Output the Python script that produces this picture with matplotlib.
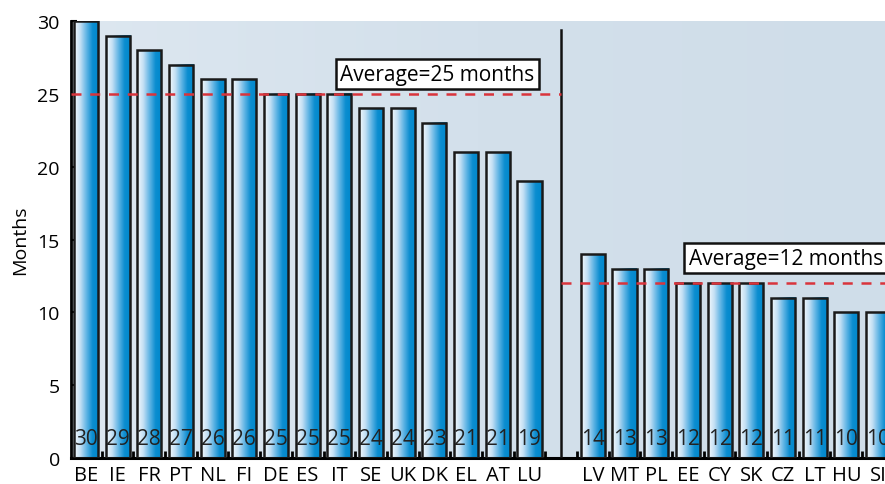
import matplotlib
matplotlib.use('Agg')
import matplotlib.pyplot as plt
import numpy as np
from matplotlib.colors import LinearSegmentedColormap

plt.rcParams['font.family'] = ['Open Sans', 'DejaVu Sans']

# Data
group_a = ['BE', 'IE', 'FR', 'PT', 'NL', 'FI', 'DE', 'ES', 'IT', 'SE', 'UK', 'DK', 'EL', 'AT', 'LU']
values_a = [30, 29, 28, 27, 26, 26, 25, 25, 25, 24, 24, 23, 21, 21, 19]
group_b = ['LV', 'MT', 'PL', 'EE', 'CY', 'SK', 'CZ', 'LT', 'HU', 'SI']
values_b = [14, 13, 13, 12, 12, 12, 11, 11, 10, 10]
avg_a = 25
avg_b = 12

labels = group_a + [''] + group_b
values = values_a + [0] + values_b
pos = np.arange(len(labels))
split = len(group_a)

fig = plt.figure(figsize=(8.85, 4.85), dpi=100)
ax = fig.add_axes([0.0802, 0.0536, 0.9198, 0.901])
xmin, xmax = -0.47, 25.22

# background
bg = np.linspace(0, 1, 200).reshape(1, -1)
bg_cmap = LinearSegmentedColormap.from_list('bg', ['#dde7f0', '#d3e0eb', '#cfdde9'])
ax.imshow(bg, extent=[xmin, xmax, 0, 30], aspect='auto', cmap=bg_cmap, zorder=0)

bar_cmap = LinearSegmentedColormap.from_list(
    'bar', ['#f6fafd', '#c4e0f4', '#62b5e5', '#0b8dd0', '#0088cc'])
grad = np.linspace(0, 1, 100).reshape(1, -1)

idx = [i for i, v in enumerate(values) if i != split]
bars = ax.bar(pos[idx], [values[i] for i in idx], width=0.76,
              facecolor='none', edgecolor='#1a1a1a', linewidth=1.8, zorder=3)
for b, i in zip(bars, idx):
    x0, y0, w, h = b.get_x(), b.get_y(), b.get_width(), b.get_height()
    ax.imshow(grad, extent=[x0, x0 + w, y0, y0 + h], aspect='auto',
              cmap=bar_cmap, zorder=2)
    ax.text(pos[i], 0.6, str(values[i]), ha='center', va='bottom',
            fontsize=15, color='#222222', zorder=5)

# separator and averages
ax.plot([split, split], [0, 29.4], color='#111111', lw=1.8, zorder=4)
ax.plot([xmin, split], [avg_a, avg_a], color='#d9343c', lw=1.8,
        dashes=(4, 3.5), zorder=4)
ax.plot([split, xmax], [avg_b, avg_b], color='#d9343c', lw=1.8,
        dashes=(4, 3.5), zorder=4)
box = dict(boxstyle='square,pad=0.22', facecolor='white', edgecolor='#111111', lw=1.8)
ax.text(8.03, 26.35, 'Average=25 months', ha='left', va='center',
        fontsize=15, bbox=box, zorder=6)
ax.text(19.02, 13.72, 'Average=12 months', ha='left', va='center',
        fontsize=15, bbox=box, zorder=6)

ax.set_xticks(pos)
ax.set_xticklabels(labels, fontsize=14.5)
ax.tick_params(axis='x', length=0, pad=5)
ax.set_xticks(pos + 0.5, minor=True)
ax.tick_params(axis='x', which='minor', direction='in', length=5, width=2)
ax.set_yticks(range(0, 31, 5))
ax.tick_params(axis='y', direction='in', length=4, width=1.5, labelsize=14, pad=8)
ax.set_ylabel('Months', fontsize=14, labelpad=6)

for s in ['top', 'right']:
    ax.spines[s].set_visible(False)
ax.spines['left'].set_linewidth(2)
ax.spines['bottom'].set_linewidth(2.2)

ax.set_xlim(xmin, xmax)
ax.set_ylim(0, 30)

plt.savefig('out.png', dpi=100)
